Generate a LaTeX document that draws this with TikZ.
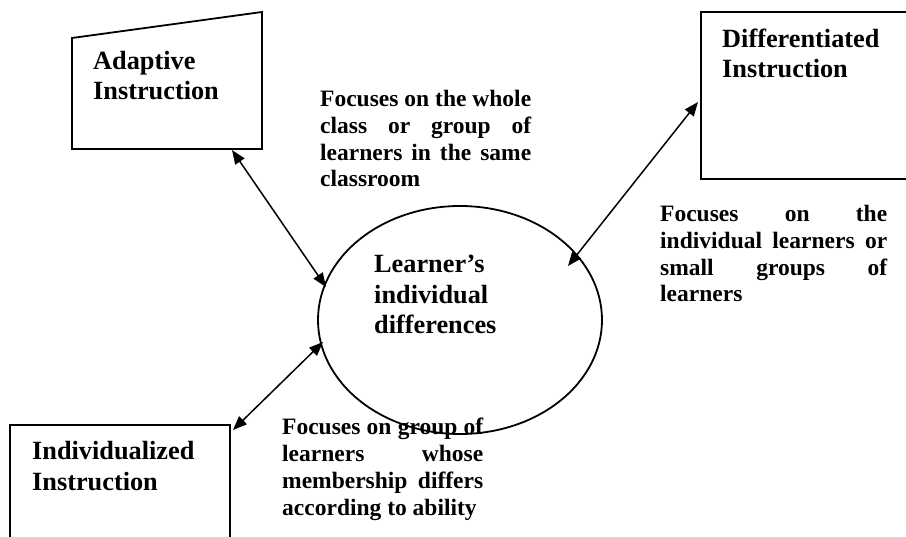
\documentclass[tikz,border=0pt]{standalone}
\usepackage{fontspec}
\setmainfont{Liberation Serif}
\usetikzlibrary{arrows.meta,shapes.geometric}
\newcommand\jline[2]{\makebox[#1][s]{#2}}
\begin{document}
\begin{tikzpicture}[x=1pt,y=-1pt,
  boxline/.style={line width=1.8pt,line join=miter},
  link/.style={line width=1.5pt,{Triangle[length=14pt,width=11pt]}-{Triangle[length=14pt,width=11pt]}},
  title/.style={font=\fontsize{26.3}{30.5}\selectfont\bfseries,align=left,inner sep=0pt,anchor=base west},
  note/.style={font=\fontsize{23.5}{26.8}\selectfont\bfseries,align=left,inner sep=0pt,anchor=base west}]
\useasboundingbox (0,0) rectangle (906,537);
\clip (0,0) rectangle (906,537);
\fill[white] (0,0) rectangle (906,537);

% Adaptive box (slanted top)
\draw[boxline] (72,38) -- (262,12) -- (262,149) -- (72,149) -- cycle;
\node[title] (adt) at (93,100) {Adaptive\\Instruction};

% Differentiated box (runs off right edge)
\draw[boxline] (930,12) -- (701,12) -- (701,179) -- (930,179);
\node[title] (dft) at (722,78) {Differentiated\\Instruction};

% Individualized box (runs off bottom edge)
\draw[boxline] (10,560) -- (10,425) -- (230,425) -- (230,560);
\node[title] (ind) at (32,490) {Individualized\\Instruction};

% Central ellipse
\node[draw,ellipse,line width=1.8pt,minimum width=284pt,minimum height=228pt,inner sep=0pt] (ell) at (460,320) {};
\node[title] (lid) at (374,334) {Learner’s\\individual\\differences};

% Connector ends
\coordinate (adE) at (232,150);
\coordinate (elA) at (326,287);
\coordinate (inE) at (233,430);
\coordinate (elI) at (323,342);
\coordinate (dfE) at (698,102);
\coordinate (elD) at (568,266);

\draw[link] (adE) -- (elA);
\draw[link] (inE) -- (elI);
\draw[link] (dfE) -- (elD);

% Descriptions
\node[note] (n1) at (320,187) {\jline{211pt}{Focuses on the whole}\\\jline{211pt}{class or group of}\\\jline{211pt}{learners in the same}\\classroom};
\node[note] (n2) at (660,302) {\jline{227pt}{Focuses on the}\\\jline{227pt}{individual learners or}\\\jline{227pt}{small groups of}\\learners};
\node[note] (n3) at (282,515) {\jline{201pt}{Focuses on group of}\\\jline{201pt}{learners whose}\\\jline{201pt}{membership differs}\\according to ability};
\end{tikzpicture}
\end{document}
